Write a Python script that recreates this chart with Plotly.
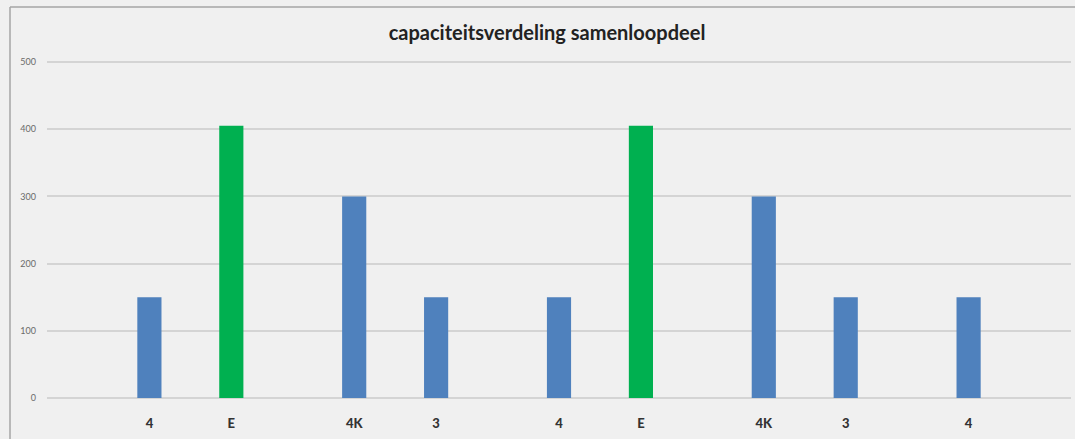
import plotly.graph_objects as go

categories = ["4", "E", "4K", "3", "4", "E", "4K", "3", "4"]
values = [150, 405, 300, 150, 150, 405, 300, 150, 150]
slots = [2, 4, 7, 9, 12, 14, 17, 19, 22]
n_slots = 25
y_ticks = [0, 100, 200, 300, 400, 500]

BLUE = "#4f81bd"
GREEN = "#00b050"
colors = [GREEN if c == "E" else BLUE for c in categories]

fig = go.Figure(go.Bar(
    x=slots, y=values, marker=dict(color=colors, line=dict(width=0)),
    width=0.59, showlegend=False,
))

L, R, T, B = 47, 1075 - 1071, 60, 439 - 400
pw = 1075 - L - R
ph = 439 - T - B

fig.update_layout(
    width=1075, height=439,
    margin=dict(l=L, r=R, t=T, b=B),
    paper_bgcolor="#f0f0f0", plot_bgcolor="#f0f0f0",
    font=dict(family="Lato, Open Sans, sans-serif"),
    title=dict(text="<b>capaciteitsverdeling samenloopdeel</b>",
               x=(547 - L) / pw, xref="paper", xanchor="center",
               y=1 - 33 / 439, yanchor="middle",
               font=dict(size=20, color="#222222")),
    xaxis=dict(range=[-0.5, n_slots - 0.5], tickvals=slots, ticktext=categories,
               showgrid=False, zeroline=False, showline=False, ticks="",
               ticklabelstandoff=14,
               tickfont=dict(size=13, color="#333333", family="Lato Black, Lato, sans-serif"),
               fixedrange=True),
    yaxis=dict(range=[-3, 503], tickvals=y_ticks, showgrid=True,
               gridcolor="#d4d4d4", gridwidth=1.5, zeroline=False, showline=False,
               ticks="", ticklabelstandoff=10,
               tickfont=dict(size=9, color="#6a6a6a")),
    shapes=[
        dict(type="line", xref="paper", yref="paper",
             x0=(10 - L) / pw, x1=(10 - L) / pw,
             y0=-0.3, y1=(400 - 7) / ph,
             line=dict(color="#a6a6a6", width=1.5)),
        dict(type="line", xref="paper", yref="paper",
             x0=(10 - L) / pw, x1=1.05,
             y0=(400 - 7) / ph, y1=(400 - 7) / ph,
             line=dict(color="#a6a6a6", width=1.5)),
    ],
)

fig.write_html("out.html")
